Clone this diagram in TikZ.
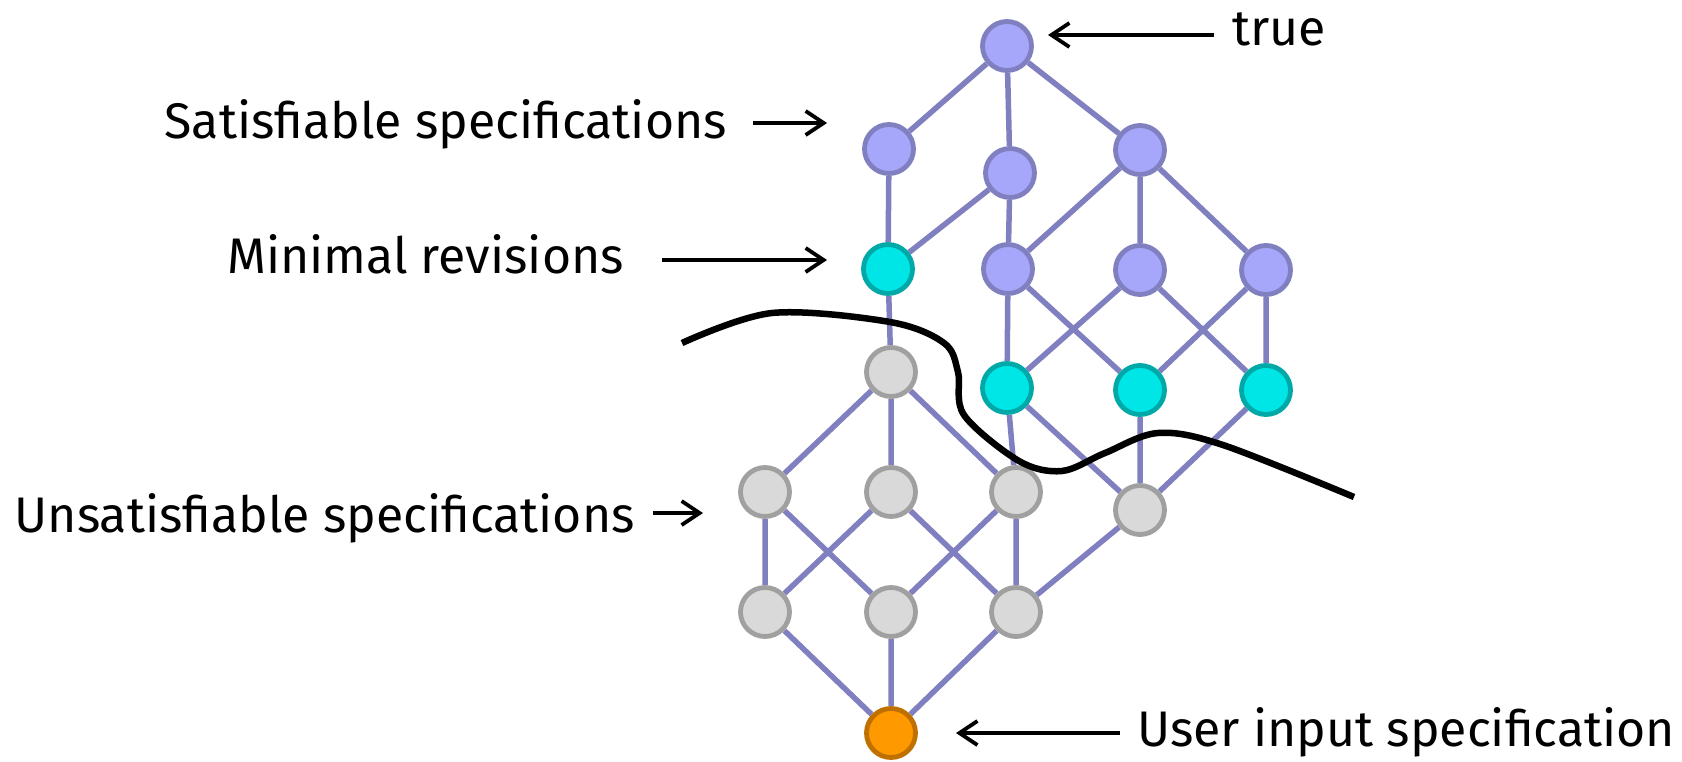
\documentclass[tikz,border=0pt]{standalone}
\usepackage{fontspec}
\setmainfont{Fira Sans}
\usetikzlibrary{arrows.meta,backgrounds}
\definecolor{edgeblue}{RGB}{128,128,192}
\definecolor{satfill}{RGB}{166,166,250}
\definecolor{minfill}{RGB}{0,229,229}
\definecolor{minline}{RGB}{0,168,168}
\definecolor{unsatfill}{RGB}{217,217,217}
\definecolor{unsatline}{RGB}{160,160,160}
\definecolor{inpfill}{RGB}{255,153,0}
\definecolor{inpline}{RGB}{192,112,0}
\begin{document}
\begin{tikzpicture}[x=1pt,y=-1pt,
  vtx/.style={circle,minimum size=49pt,inner sep=0pt,line width=4.8pt},
  satv/.style={vtx,fill=satfill,draw=edgeblue},
  minv/.style={vtx,fill=minfill,draw=minline},
  unsatv/.style={vtx,fill=unsatfill,draw=unsatline},
  inpv/.style={vtx,fill=inpfill,draw=inpline},
  link/.style={draw=edgeblue,line width=5.5pt},
  pointer/.style={-{Straight Barb[length=18pt,width=24pt]},line width=3.8pt},
  lbl/.style={font=\fontsize{50}{58}\selectfont,inner sep=0pt}]
\useasboundingbox (0,0) rectangle (1682,761);

% satisfiable part of the lattice
\node[satv] (t)  at (1007,46)  {};
\node[satv] (s1) at (889,149)  {};
\node[satv] (s2) at (1010,173) {};
\node[satv] (s3) at (1140,150) {};
\node[minv] (m1) at (888,269)  {};
\node[satv] (a2) at (1008,269) {};
\node[satv] (a3) at (1140,270) {};
\node[satv] (a4) at (1266,270) {};
\node[minv] (c1) at (1007,388) {};
\node[minv] (c2) at (1140,390) {};
\node[minv] (c3) at (1266,390) {};

% unsatisfiable part
\node[unsatv] (g0) at (891,372)  {};
\node[unsatv] (u1) at (765,492)  {};
\node[unsatv] (u2) at (891,492)  {};
\node[unsatv] (u3) at (1016,492) {};
\node[unsatv] (u4) at (1140,510) {};
\node[unsatv] (w1) at (765,612)  {};
\node[unsatv] (w2) at (891,612)  {};
\node[unsatv] (w3) at (1016,612) {};
\node[inpv]   (in) at (891,733)  {};

\begin{scope}[on background layer]
  \fill[white] (0,0) rectangle (1682,761);
  \path[link] (t) -- (s1) (t) -- (s2) (t) -- (s3)
    (s1) -- (m1) (s2) -- (m1) (s2) -- (a2)
    (s3) -- (a2) (s3) -- (a3) (s3) -- (a4)
    (a2) -- (c1) (a2) -- (c2) (a3) -- (c1) (a3) -- (c3)
    (a4) -- (c2) (a4) -- (c3)
    (m1) -- (g0)
    (c1) -- (u3) (c1) -- (u4) (c2) -- (u4) (c3) -- (u4)
    (g0) -- (u1) (g0) -- (u2) (g0) -- (u3)
    (u1) -- (w1) (u1) -- (w2) (u2) -- (w1) (u2) -- (w3)
    (u3) -- (w2) (u3) -- (w3) (u4) -- (w3)
    (w1) -- (in) (w2) -- (in) (w3) -- (in);
\end{scope}

% boundary between satisfiable and unsatisfiable specifications
\draw[line width=6.5pt,line join=round]
  plot[smooth,tension=0.55] coordinates {
    (682,343) (772,313) (890,322) (944,343) (958,372) (964,415)
    (1019,461) (1062,471) (1105,453) (1158,433) (1223,445) (1354,497)};

% labels and pointers
\node[lbl,anchor=base west] (ltrue) at (1232,45) {true};
\node[lbl,anchor=base east] (lsat) at (727,138) {Satisfiable specifications};
\node[lbl,anchor=base east] (lmin) at (624,273) {Minimal revisions};
\node[lbl,anchor=base east] (lunsat) at (635,532) {Unsatisfiable specifications};
\node[lbl,anchor=base west] (luser) at (1137,746) {User input specification};

\coordinate (ptrue) at (1048,35);
\coordinate (ptrueS) at (1214,35);
\coordinate (psatS) at (753,123);
\coordinate (psat) at (827,123);
\coordinate (pminS) at (662,260);
\coordinate (pmin) at (827,260);
\coordinate (punsatS) at (653,513);
\coordinate (punsat) at (703,513);
\coordinate (puserS) at (1120,733);
\coordinate (puser) at (956,733);

\draw[pointer] (ptrueS) -- (ptrue);
\draw[pointer] (psatS) -- (psat);
\draw[pointer] (pminS) -- (pmin);
\draw[pointer] (punsatS) -- (punsat);
\draw[pointer] (puserS) -- (puser);
\end{tikzpicture}
\end{document}
